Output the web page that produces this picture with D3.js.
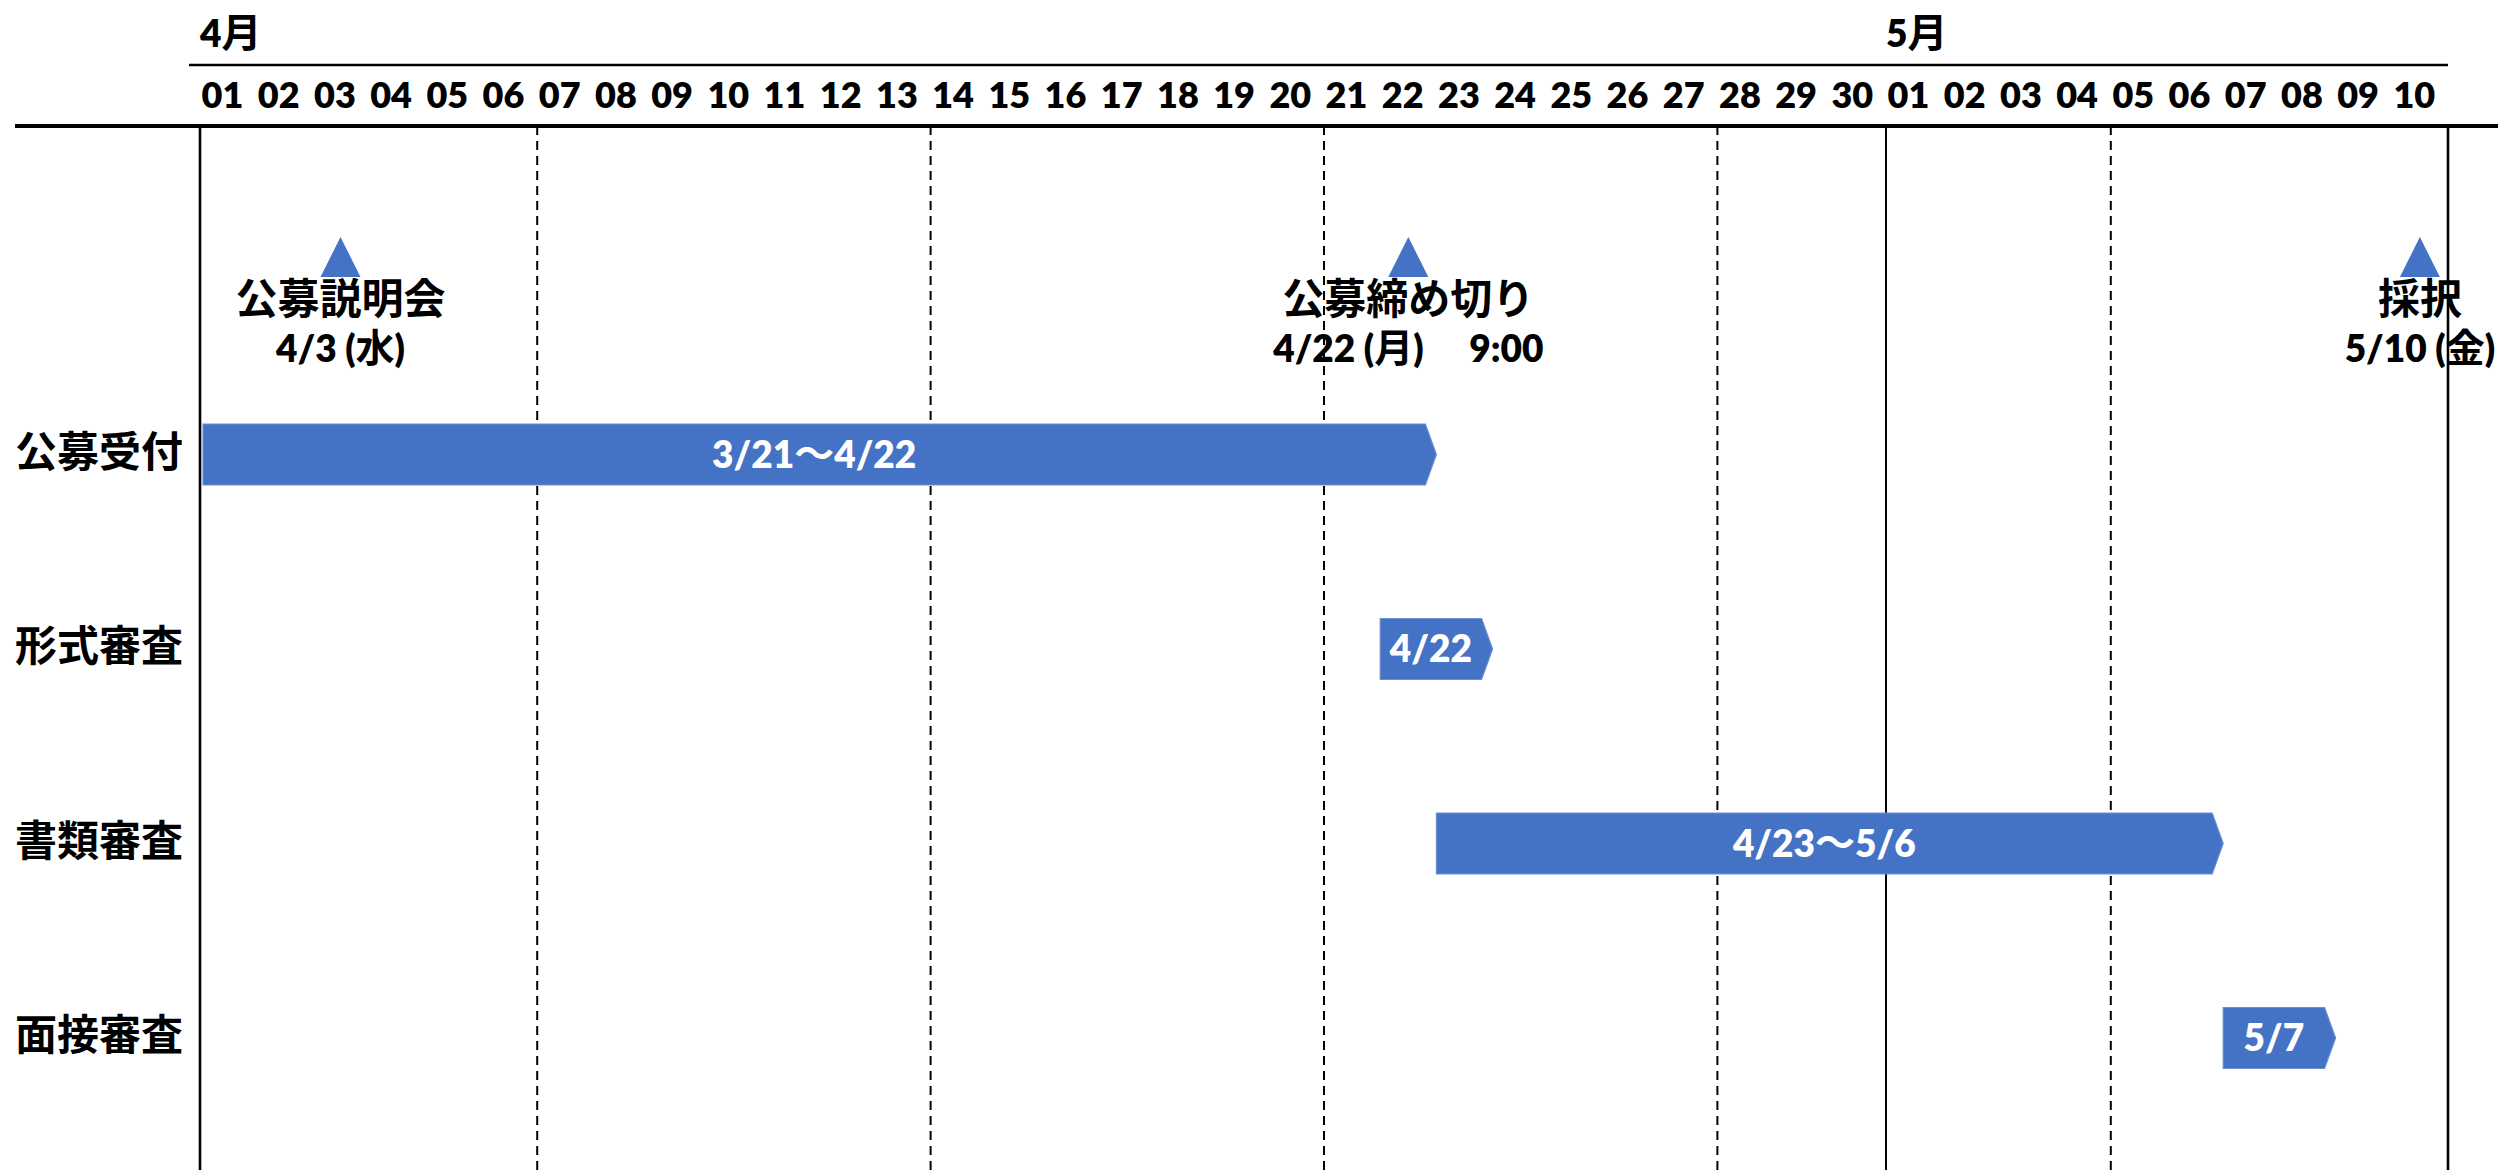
<!DOCTYPE html>
<html lang="ja">
<head>
<meta charset="utf-8">
<script src="https://cdn.jsdelivr.net/npm/d3@7"></script>
<style>
  html, body { margin: 0; padding: 0; background: #ffffff; }
  svg { display: block; }
</style>
</head>
<body>
<svg id="chart" width="2498" height="1170"></svg>
<script>
// ---------------- data ----------------
const axisStart = "2024-04-01";
const axisEnd = "2024-05-11";          // exclusive end of the timeline
const monthLabels = ["4月", "5月"];
const monthStarts = ["2024-04-01", "2024-05-01"];
const weekLines = ["2024-04-07", "2024-04-14", "2024-04-21", "2024-04-28", "2024-05-05"];

const tasks = ["公募受付", "形式審査", "書類審査", "面接審査"];
const taskStarts = ["2024-03-21", "2024-04-22", "2024-04-23", "2024-05-07"];
const taskEnds = ["2024-04-23", "2024-04-24", "2024-05-07", "2024-05-09"]; // arrow tip (exclusive)
const taskLabels = ["3/21～4/22", "4/22", "4/23～5/6", "5/7"];

const milestoneNames = ["公募説明会", "公募締め切り", "採択"];
const milestoneDates = ["2024-04-03", "2024-04-22", "2024-05-10"];
const milestoneSubs = ["4/3 (水)", "4/22 (月)\u3000 9:00", "5/10 (金)"];

// ---------------- setup ----------------
const W = 2498, H = 1170;
const BLUE = "#4472C4";
// Latin-first stack; CJK glyphs fall back to Noto Sans CJK JP
const FONT = "Lato, 'Liberation Sans', 'Noto Sans CJK JP', sans-serif";
const parse = d3.utcParse("%Y-%m-%d");

const svg = d3.select("#chart");
const x = d3.scaleUtc()
  .domain([parse(axisStart), parse(axisEnd)])
  .range([200, 2448]);
const days = d3.utcDay.range(parse(axisStart), parse(axisEnd));
const dayW = x(days[1]) - x(days[0]);

const y = d3.scalePoint().domain(tasks).range([454.5, 1038]);
const barH = 61, tip = 11;

// mixed Latin / CJK text: Latin runs at latinSize, CJK runs at cjkSize
function addRuns(sel, str, latinSize, cjkSize) {
  const parts = str.split(/([\u3001-\u9fff\uff00-\uffef]+)/).filter(s => s.length);
  parts.forEach(p => {
    const isCjk = /[\u3001-\u9fff\uff00-\uffef]/.test(p);
    sel.append("tspan")
      .attr("font-size", isCjk ? cjkSize : latinSize)
      .attr("font-weight", isCjk ? 700 : 800)
      .text(p);
  });
}

// ---------------- grid lines ----------------
const grid = svg.append("g");
grid.selectAll("line.week").data(weekLines).join("line")
  .attr("x1", d => x(parse(d))).attr("x2", d => x(parse(d)))
  .attr("y1", 126).attr("y2", H)
  .attr("stroke", "#000").attr("stroke-width", 2)
  .attr("stroke-dasharray", "9,6");

const solid = [axisStart, monthStarts[1], axisEnd];
grid.selectAll("line.solid").data(solid).join("line")
  .attr("x1", d => x(parse(d))).attr("x2", d => x(parse(d)))
  .attr("y1", 126).attr("y2", H)
  .attr("stroke", "#000").attr("stroke-width", (d, i) => i === 1 ? 2 : 2.6);

// header lines
svg.append("line").attr("x1", 189).attr("x2", x(parse(axisEnd)))
  .attr("y1", 65).attr("y2", 65).attr("stroke", "#000").attr("stroke-width", 2.6);
svg.append("line").attr("x1", 15).attr("x2", W)
  .attr("y1", 126).attr("y2", 126).attr("stroke", "#000").attr("stroke-width", 4);

// ---------------- axis (day labels) ----------------
const axis = d3.axisTop(x)
  .tickValues(days)
  .tickFormat(d3.utcFormat("%d"))
  .tickSize(0).tickPadding(0);
const axG = svg.append("g").attr("transform", "translate(0,108)").call(axis);
axG.select(".domain").remove();
axG.selectAll(".tick text")
  .attr("x", 22).attr("y", 0).attr("dy", 0)
  .attr("font-family", FONT).attr("font-size", 36).attr("font-weight", 800)
  .attr("fill", "#000")
  .attr("text-anchor", "middle");

// month labels
svg.selectAll("text.month").data(monthLabels).join("text")
  .attr("class", "month")
  .attr("x", (d, i) => x(parse(monthStarts[i])))
  .attr("y", 47)
  .attr("font-family", FONT).attr("fill", "#000")
  .each(function (d) { addRuns(d3.select(this), d, 37, 40); });

// ---------------- row labels ----------------
svg.selectAll("text.row").data(tasks).join("text")
  .attr("class", "row")
  .attr("x", 15)
  .attr("y", d => y(d) + 12)
  .attr("font-family", FONT).attr("font-size", 42).attr("font-weight", 700)
  .attr("fill", "#000")
  .text(d => d);

// ---------------- bars ----------------
const bars = svg.append("g");
tasks.forEach((t, i) => {
  const x0 = Math.max(x(parse(taskStarts[i])), x.range()[0] + 3);
  const x1 = x(parse(taskEnds[i]));
  const cy = y(t);
  const pts = [
    [x0, cy - barH / 2], [x1 - tip, cy - barH / 2], [x1, cy],
    [x1 - tip, cy + barH / 2], [x0, cy + barH / 2]
  ];
  bars.append("path")
    .attr("d", d3.line()(pts) + "Z")
    .attr("fill", BLUE)
    .attr("stroke", "#6b8fd3").attr("stroke-width", 1.2);
  const t0 = bars.append("text")
    .attr("x", (x0 + x1 - tip) / 2)
    .attr("y", cy + 13)
    .attr("text-anchor", "middle")
    .attr("font-family", FONT).attr("fill", "#fff");
  addRuns(t0, taskLabels[i], 37, 40);
});

// ---------------- milestones ----------------
const ms = svg.append("g");
milestoneNames.forEach((n, i) => {
  const cx = x(parse(milestoneDates[i])) + dayW / 2;
  ms.append("path")
    .attr("d", d3.line()([[cx, 237], [cx + 20, 277], [cx - 20, 277]]) + "Z")
    .attr("fill", BLUE);
  ms.append("text")
    .attr("x", cx).attr("y", 314)
    .attr("text-anchor", "middle")
    .attr("font-family", FONT).attr("font-size", 42).attr("font-weight", 700)
    .attr("fill", "#000")
    .text(n);
  const s = ms.append("text")
    .attr("x", cx).attr("y", 362)
    .attr("text-anchor", "middle")
    .attr("font-family", FONT).attr("fill", "#000");
  addRuns(s, milestoneSubs[i], 37, 39);
});
</script>
</body>
</html>
